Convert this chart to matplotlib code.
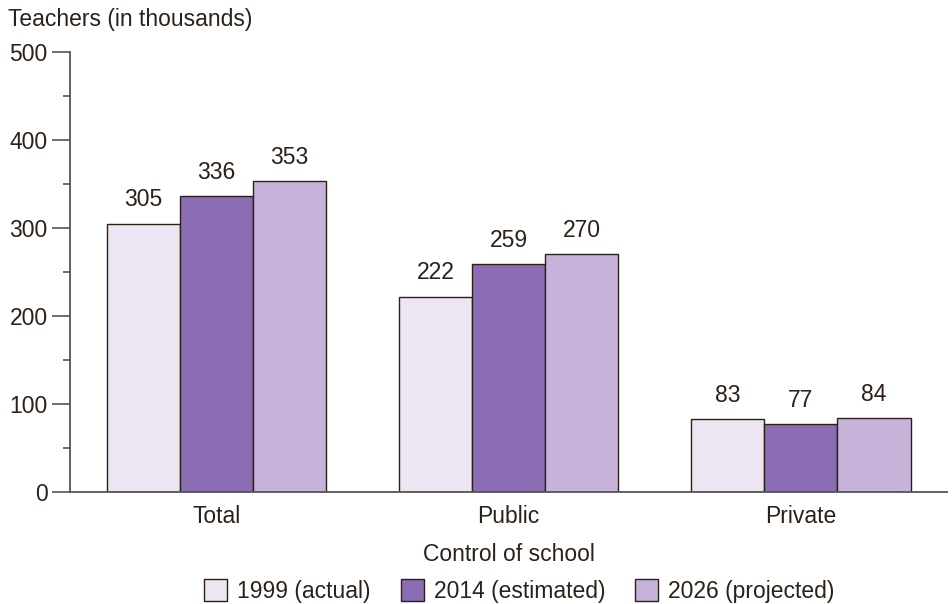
import numpy as np
import matplotlib.pyplot as plt
from matplotlib.ticker import MultipleLocator

plt.rcParams['font.family'] = ['Liberation Sans', 'DejaVu Sans']

# Teachers by control of school, in thousands
groups = ['Total', 'Public', 'Private']
series = ['1999 (actual)', '2014 (estimated)', '2026 (projected)']
v1999 = [305, 222, 83]
v2014 = [336, 259, 77]
v2026 = [353, 270, 84]

colors = ['#ede5f2', '#8a6db2', '#c7b3da']
ink = '#2b2118'
axis_col = '#555555'
fs = 16.5

fig = plt.figure(figsize=(9.53, 6.04), dpi=100)
ax = fig.add_axes([0.0735, 0.1854, 0.9203, 0.7285])

x = np.arange(len(groups))
w = 0.25
for i, (vals, lab, c) in enumerate(zip([v1999, v2014, v2026], series, colors)):
    xs = x + (i - 1) * w
    ax.bar(xs, vals, w, color=c, edgecolor=ink, linewidth=1.0, label=lab, zorder=2)
    for xi, v in zip(xs, vals):
        ax.text(xi, v + 14, str(v), ha='center', va='bottom', fontsize=fs, color=ink)

ax.set_xlim(-0.5, 2.5)
ax.set_ylim(0, 500)
ax.yaxis.set_major_locator(MultipleLocator(100))
ax.yaxis.set_minor_locator(MultipleLocator(50))
ax.set_xticks(x)
ax.set_xticklabels(groups)

for s in ['top', 'right']:
    ax.spines[s].set_visible(False)
for s in ['left', 'bottom']:
    ax.spines[s].set_color(axis_col)
    ax.spines[s].set_linewidth(1.3)

ax.tick_params(axis='y', which='major', length=13, width=1.2, color=axis_col,
               labelsize=fs, labelcolor=ink, pad=3)
ax.tick_params(axis='y', which='minor', length=5, width=1.2, color=axis_col)
ax.tick_params(axis='x', length=0, labelsize=fs, labelcolor=ink, pad=9)

ax.set_xlabel('Control of school', fontsize=fs, color=ink, labelpad=11)
fig.text(0.008, 0.968, 'Teachers (in thousands)', fontsize=fs, color=ink,
         ha='left', va='center')

ax.legend(loc='upper center', bbox_to_anchor=(0.5125, -0.177), ncol=3, frameon=False,
          fontsize=fs, labelcolor=ink, handlelength=1.0, handleheight=1.1,
          handletextpad=0.45, columnspacing=1.3, borderaxespad=0)

fig.savefig('out.png', dpi=100)
